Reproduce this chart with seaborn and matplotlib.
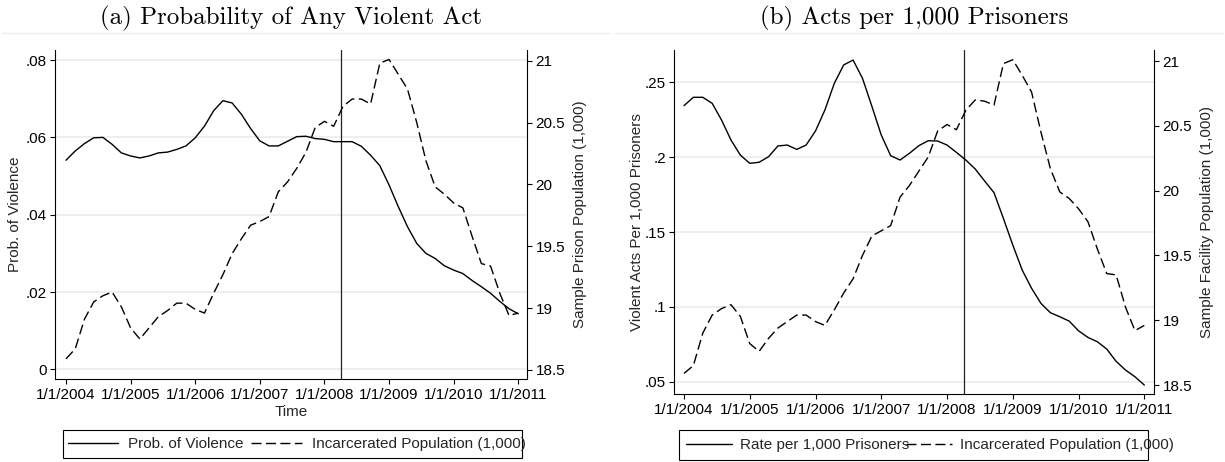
import numpy as np
import pandas as pd
import matplotlib
matplotlib.use("Agg")
import matplotlib.pyplot as plt
from matplotlib.lines import Line2D
from matplotlib.patches import Rectangle
import seaborn as sns

# Observation dates: seven evenly spaced readings per year, 2004 through 2011
n_obs = 50
years = 2004 + np.arange(n_obs) / 7.0

# Panel (a): probability of any violent act, and sample prison population (1,000)
prob_violence = [
    .0541, .0565, .0584, .0599, .0600, .0582, .0560, .0552, .0547, .0552,
    .0560, .0562, .0569, .0578, .0599, .0629, .0669, .0695, .0689, .0660,
    .0623, .0591, .0578, .0578, .0590, .0602, .0603, .0597, .0595, .0589,
    .0589, .0589, .0577, .0554, .0527, .0477, .0421, .0369, .0326, .0300,
    .0287, .0268, .0257, .0248, .0230, .0214, .0197, .0176, .0157, .0144,
]
prison_pop = [
    18.59, 18.67, 18.91, 19.05, 19.10, 19.13, 19.01, 18.84, 18.75, 18.84,
    18.93, 18.98, 19.04, 19.04, 18.99, 18.96, 19.12, 19.27, 19.44, 19.56,
    19.67, 19.70, 19.74, 19.94, 20.02, 20.13, 20.26, 20.46, 20.51, 20.47,
    20.63, 20.69, 20.69, 20.65, 20.98, 21.01, 20.89, 20.77, 20.50, 20.19,
    19.98, 19.92, 19.85, 19.81, 19.58, 19.36, 19.34, 19.12, 18.94, 18.96,
]

# Panel (b): violent acts per 1,000 prisoners, and sample facility population (1,000)
acts_rate = [
    .2344, .2400, .2400, .2360, .2248, .2115, .2014, .1959, .1966, .2003,
    .2075, .2081, .2052, .2081, .2175, .2315, .2493, .2616, .2649, .2527,
    .2340, .2148, .2010, .1981, .2026, .2077, .2110, .2108, .2081, .2032,
    .1981, .1921, .1841, .1763, .1591, .1413, .1246, .1124, .1023, .0961,
    .0934, .0905, .0840, .0796, .0767, .0718, .0636, .0578, .0533, .0478,
]
facility_pop = [
    18.59, 18.65, 18.90, 19.04, 19.09, 19.12, 19.03, 18.82, 18.76, 18.86,
    18.94, 18.99, 19.04, 19.04, 18.99, 18.96, 19.08, 19.21, 19.32, 19.50,
    19.65, 19.69, 19.73, 19.95, 20.04, 20.15, 20.26, 20.46, 20.51, 20.47,
    20.62, 20.70, 20.69, 20.66, 20.98, 21.01, 20.89, 20.76, 20.45, 20.17,
    19.99, 19.94, 19.86, 19.76, 19.55, 19.36, 19.35, 19.10, 18.92, 18.96,
]

# Policy change date marked by the vertical line
policy_date = 2008.26

# Axis ticks and labels
year_ticks = list(range(2004, 2012))
year_labels = [f"1/1/{y}" for y in year_ticks]
pop_ticks = [18.5, 19, 19.5, 20, 20.5, 21]
pop_labels = ["18.5", "19", "19.5", "20", "20.5", "21"]
prob_ticks = [0, .02, .04, .06, .08]
prob_labels = ["0", ".02", ".04", ".06", ".08"]
rate_ticks = [.05, .10, .15, .20, .25]
rate_labels = [".05", ".1", ".15", ".2", ".25"]

titles = ["(a) Probability of Any Violent Act", "(b) Acts per 1,000 Prisoners"]

sns.set_theme(style="white")
plt.rcParams["font.family"] = ["Liberation Sans", "DejaVu Sans"]

W, H = 1225, 462
fig = plt.figure(figsize=(W / 100, H / 100), dpi=100)
fig.patch.set_facecolor("white")

FS = 11.0
DASH = (0, (7.2, 3.2))
GRID = "#e9e9e9"


def px_axes(x0, y0, x1, y1):
    return fig.add_axes([x0 / W, (H - y1) / H, (x1 - x0) / W, (y1 - y0) / H])


def px_box(x0, y0, x1, y1):
    fig.add_artist(Rectangle((x0 / W, 1 - y1 / H), (x1 - x0) / W, (y1 - y0) / H,
                             transform=fig.transFigure, fill=False,
                             edgecolor="black", lw=0.8))


def draw_panel(ax, rate, pop, ylim, yticks, ylabels, ylabel, pop_ylim, pop_ylabel,
               xlim, ylab_x, ylab2_x, legend_labels, legend_box, legend_opts,
               xlabel=None):
    df = pd.DataFrame({"year": years, "rate": rate, "pop": pop})
    ax.set_facecolor("white")
    for yv in yticks:
        ax.axhline(yv, color=GRID, lw=1.1, zorder=0)
    sns.lineplot(data=df, x="year", y="rate", ax=ax, color="black",
                 linewidth=1.0, zorder=3, legend=False)
    ax.axvline(policy_date, color="#222222", lw=0.9, zorder=2)
    ax.set_xlim(*xlim)
    ax.set_ylim(*ylim)
    ax.set_xticks(year_ticks)
    ax.set_xticklabels(year_labels)
    ax.set_yticks(yticks)
    ax.set_yticklabels(ylabels)
    ax.set_ylabel(ylabel, fontsize=FS)
    ax.yaxis.set_label_coords(ylab_x, 0.5)
    ax.yaxis.label.set_va("center")
    if xlabel:
        ax.set_xlabel(xlabel, fontsize=FS)
        ax.xaxis.label.set_va("center")
    else:
        ax.set_xlabel("")

    ax2 = ax.twinx()
    sns.lineplot(data=df, x="year", y="pop", ax=ax2, color="black",
                 linewidth=1.0, linestyle=DASH, zorder=3, legend=False)
    ax2.set_ylim(*pop_ylim)
    ax2.set_yticks(pop_ticks)
    ax2.set_yticklabels(pop_labels)
    ax2.set_ylabel(pop_ylabel, fontsize=FS)
    ax2.yaxis.set_label_coords(ylab2_x, 0.5)
    ax2.yaxis.label.set_va("center")
    ax2.set_xlim(*xlim)

    for a in (ax, ax2):
        for s in a.spines.values():
            s.set_color("black")
            s.set_linewidth(0.8)
        a.spines["top"].set_visible(False)
        a.tick_params(direction="out", length=3.6, width=0.8, color="black",
                      labelsize=FS, pad=2.5, labelcolor="black")
    ax.spines["right"].set_visible(False)
    ax2.spines["left"].set_visible(False)
    ax2.spines["bottom"].set_visible(False)
    ax.tick_params(axis="x", pad=3.0)
    ax.tick_params(axis="y", left=True)
    ax.tick_params(axis="x", bottom=True)
    ax2.tick_params(axis="y", right=True)

    # Legend entries sit in a fixed box below the panel
    bx0, by0, bx1, by1 = legend_box
    px_box(bx0, by0, bx1, by1)
    handles = [Line2D([], [], color="black", lw=1.0),
               Line2D([], [], color="black", lw=1.0, linestyle=DASH)]
    fig.legend(handles, legend_labels, loc="center left",
               bbox_to_anchor=(legend_opts["x"] / W, 1 - (by0 + by1) / 2 / H),
               ncol=2, frameon=False, borderaxespad=0, borderpad=0,
               handlelength=legend_opts["hl"], handletextpad=legend_opts["htp"],
               columnspacing=legend_opts["cs"], fontsize=FS)
    return ax2


# Panel (a)
ax_a = px_axes(55, 50, 527, 379)
draw_panel(ax_a, prob_violence, prison_pop,
           ylim=(-0.00246, 0.0826), yticks=prob_ticks, ylabels=prob_labels,
           ylabel="Prob. of Violence", pop_ylim=(18.427, 21.0865),
           pop_ylabel="Sample Prison Population (1,000)",
           xlim=(2003.83, 2011.135), ylab_x=(15 - 55) / 472,
           ylab2_x=(580 - 55) / 472,
           legend_labels=["Prob. of Violence", "Incarcerated Population (1,000)"],
           legend_box=(62.7, 430, 521.7, 458),
           legend_opts={"x": 68, "hl": 3.3, "htp": 0.65, "cs": 0.5},
           xlabel="Time")
ax_a.xaxis.set_label_coords(0.5, (379 - 411.7) / 329)

# Panel (b)
ax_b = px_axes(674.3, 50, 1154, 394)
draw_panel(ax_b, acts_rate, facility_pop,
           ylim=(0.0418, 0.2716), yticks=rate_ticks, ylabels=rate_labels,
           ylabel="Violent Acts Per 1,000 Prisoners", pop_ylim=(18.431, 21.085),
           pop_ylabel="Sample Facility Population (1,000)",
           xlim=(2003.853, 2011.147), ylab_x=(637 - 674.3) / 479.7,
           ylab2_x=(1207 - 674.3) / 479.7,
           legend_labels=["Rate per 1,000 Prisoners", "Incarcerated Population (1,000)"],
           legend_box=(679.3, 430, 1148, 460),
           legend_opts={"x": 686, "hl": 3.0, "htp": 0.55, "cs": -0.25})

# Panel titles with a thin rule beneath each
for cx, title in zip([291, 914], titles):
    fig.text(cx / W, 1 - 18 / H, title, ha="center", va="center",
             fontsize=18, family="cmr10", color="black")
fig.add_artist(Line2D([0.002, 0.497], [1 - 33 / H] * 2, color="#ececec", lw=1.0))
fig.add_artist(Line2D([0.502, 0.998], [1 - 33 / H] * 2, color="#ececec", lw=1.0))

fig.savefig("out.png", dpi=100, facecolor="white")
